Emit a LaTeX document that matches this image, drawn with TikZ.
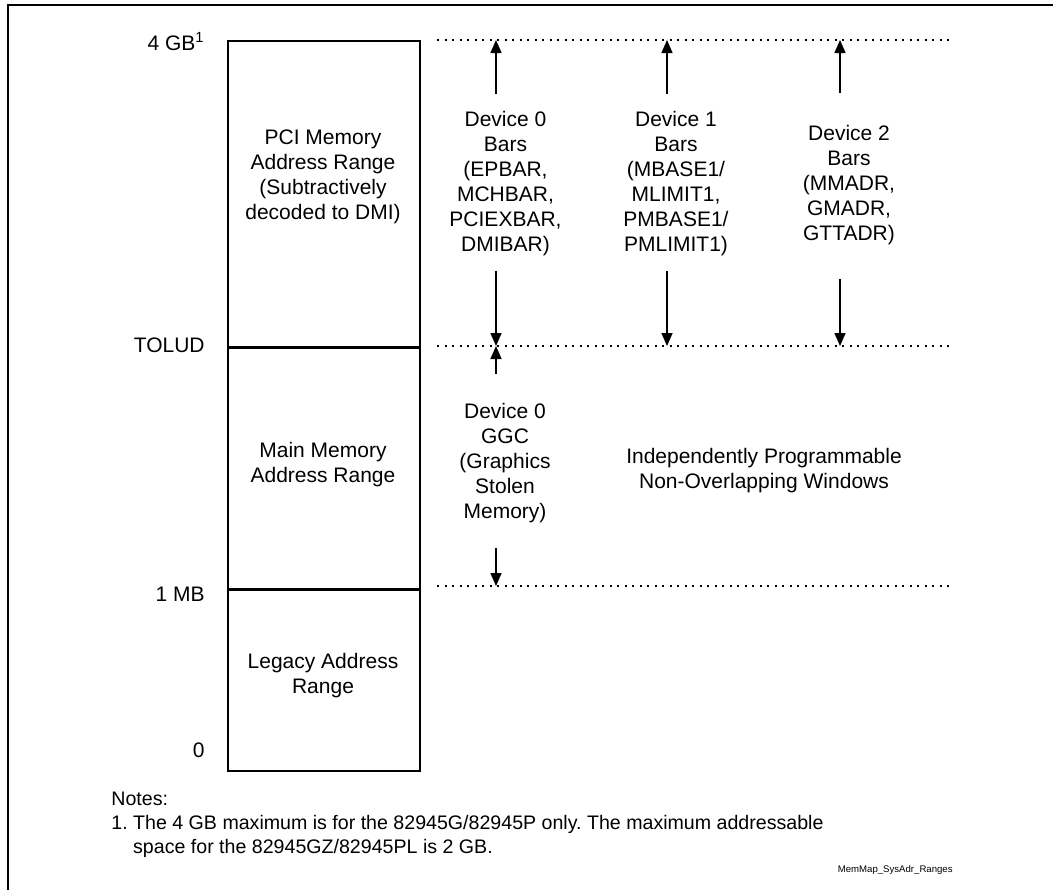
\documentclass[tikz,border=0pt]{standalone}
\usepackage{fontspec}
\setmainfont{Liberation Sans}
\usetikzlibrary{arrows.meta}
\usetikzlibrary{positioning}
\tikzstyle{region}=[draw,line width=0.75pt,minimum width=96pt,inner sep=0pt]
\tikzstyle{txt}=[align=center,inner sep=0pt]
\tikzstyle{lbl}=[anchor=base east,inner sep=0pt]
\tikzstyle{level}=[line width=1pt,dash pattern=on 1pt off 2.75pt]
\tikzstyle{bar}=[line width=0.75pt,-{Triangle[length=6.5pt,width=5.5pt]}]
\frenchspacing

\begin{document}
\begin{tikzpicture}[x=0.5pt,y=-0.5pt,font=\fontsize{10.5}{12.5}\selectfont]
\useasboundingbox (0,0) rectangle (1053,890);
\draw[line width=1pt] (8,890) -- (8,5) -- (1053,5);
% memory map
\node [region,minimum height=153pt,anchor=north west] (pci) at (227,40) {};
\node [region,minimum height=120pt,anchor=north] (main) at (pci.south) {};
\node [region,minimum height=90.5pt,anchor=north] (legacy) at (main.south) {};
\node [txt] (pcitext) at (323,177) {PCI Memory\\Address Range\\(Subtractively\\decoded to DMI)};
\node [txt] (maintext) at (323,465) {Main Memory\\Address Range};
\node [txt] (legacytext) at (323,676) {Legacy Address\\Range};
\node [lbl] (l4gb) at (205,50) {4 GB\textsuperscript{1}};
\node [lbl] (ltolud) at (205,352) {TOLUD};
\node [lbl] (l1mb) at (205,601) {1 MB};
\node [lbl] (l0) at (205,757) {0};
% address levels
\coordinate (lvtop) at (437,40);
\coordinate (lvtopend) at (954,40);
\coordinate (lvtolud) at (437,346);
\coordinate (lvtoludend) at (954,346);
\coordinate (lvmb) at (437,586);
\coordinate (lvmbend) at (954,586);
\draw[level] (lvtop) -- (lvtopend);
\draw[level] (lvtolud) -- (lvtoludend);
\draw[level] (lvmb) -- (lvmbend);
% windows
\coordinate (c0) at (496,0);
\coordinate (c1) at (667,0);
\coordinate (c2) at (840,0);
\node [txt] (d0bars) at (505.5,184) {Device 0\\Bars\\(EPBAR,\\MCHBAR,\\PCIEXBAR,\\DMIBAR)};
\node [txt] (d1bars) at (676,184) {Device 1\\Bars\\(MBASE1/\\MLIMIT1,\\PMBASE1/\\PMLIMIT1)};
\node [txt] (d2bars) at (849,185) {Device 2\\Bars\\(MMADR,\\GMADR,\\GTTADR)};
\node [txt] (d0ggc) at (505,463) {Device 0\\GGC\\(Graphics\\Stolen\\Memory)};
\node [txt] (windows) at (764,471) {Independently Programmable\\Non-Overlapping Windows};
\draw[bar] (d0bars.north -| c0) ++(0,-17) -- (c0 |- lvtop);
\draw[bar] (d0bars.south -| c0) ++(0,14) -- (c0 |- lvtolud);
\draw[bar] (d1bars.north -| c1) ++(0,-17) -- (c1 |- lvtop);
\draw[bar] (d1bars.south -| c1) ++(0,14) -- (c1 |- lvtolud);
\draw[bar] (d2bars.north -| c2) ++(0,-32) -- (c2 |- lvtop);
\draw[bar] (d2bars.south -| c2) ++(0,34) -- (c2 |- lvtolud);
\draw[bar] (d0ggc.north -| c0) ++(0,-29) -- (c0 |- lvtolud);
\draw[bar] (d0ggc.south -| c0) ++(0,25) -- (c0 |- lvmb);
% notes
\node [anchor=north west,align=left,inner sep=0pt,font=\fontsize{9.8}{12}\selectfont] (notes) at (111,792)
  {Notes:\\1. The 4 GB maximum is for the 82945G/82945P only. The maximum addressable\\\hphantom{1. }space for the 82945GZ/82945PL is 2 GB.};
\node [anchor=east,inner sep=0pt,font=\fontsize{4.8}{6}\selectfont] (figname) at (953,870) {MemMap\_SysAdr\_Ranges};
\end{tikzpicture}
\end{document}
